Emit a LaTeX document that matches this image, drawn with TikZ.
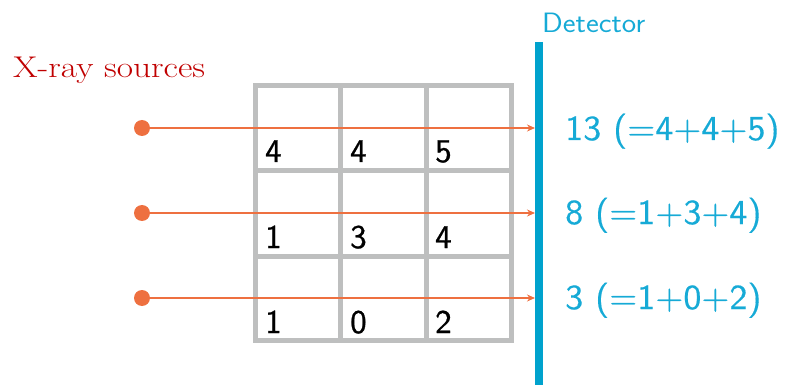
\documentclass[tikz,border=0pt]{standalone}
\usepackage{fontspec}
\usepackage{graphicx}
\usetikzlibrary{arrows.meta}
\newfontfamily\heavysans{lmsans10-regular.otf}[FakeBold=0.8]
\newfontfamily\lightsans{lmsans10-regular.otf}[FakeBold=0.3]
\definecolor{ray}{RGB}{238,112,64}
\definecolor{det}{RGB}{0,162,205}
\definecolor{dettext}{RGB}{22,170,214}
\definecolor{gridgray}{RGB}{190,191,191}
\definecolor{srcred}{RGB}{192,0,0}
\tikzset{
  gridline/.style={draw=gridgray, line width=5pt},
  srcdot/.style={circle, fill=ray, inner sep=0pt, minimum size=16pt},
  raypath/.style={draw=ray, line width=1.4pt, -{Stealth[length=8pt,width=7pt]}},
  cellnum/.style={anchor=base west, inner sep=0pt, font=\heavysans\fontsize{33}{38}\selectfont, text=black},
  sumlabel/.style={anchor=base west, inner sep=0pt, font=\lightsans\fontsize{35}{40}\selectfont, text=dettext},
}
\begin{document}
\begin{tikzpicture}[x=1pt,y=-1pt]
\useasboundingbox (0,0) rectangle (785,385);
% grid
\draw[gridline] (255,86) rectangle (511,340);
\draw[gridline] (340,86) -- (340,340);
\draw[gridline] (426,86) -- (426,340);
\draw[gridline] (255,171) -- (511,171);
\draw[gridline] (255,256) -- (511,256);
% cell numbers
\node[cellnum] (c11) at (265,162) {4};
\node[cellnum] (c12) at (350,162) {4};
\node[cellnum] (c13) at (435,162) {5};
\node[cellnum] (c21) at (265,248) {1};
\node[cellnum] (c22) at (350,248) {3};
\node[cellnum] (c23) at (435,248) {4};
\node[cellnum] (c31) at (265,333) {1};
\node[cellnum] (c32) at (350,333) {0};
\node[cellnum] (c33) at (435,333) {2};
% detector
\coordinate (dtop) at (539,42);
\coordinate (dbot) at (539,385);
\draw[det, line width=8pt] (dtop) -- (dbot);
\node[anchor=base west, inner sep=0pt, font=\sffamily\fontsize{28}{32}\selectfont, text=dettext] (dlabel) at (542,33) {\scalebox{1.09}[1]{Detector}};
% sources and rays
\node[srcdot] (s1) at (142,128) {};
\node[srcdot] (s2) at (142,213) {};
\node[srcdot] (s3) at (142,298) {};
\coordinate (d1) at (535,128);
\coordinate (d2) at (535,213);
\coordinate (d3) at (535,298);
\draw[raypath] (s1.center) -- (d1);
\draw[raypath] (s2.center) -- (d2);
\draw[raypath] (s3.center) -- (d3);
% sums
\node[sumlabel] (r1) at (565,140) {\scalebox{1.03}[1]{13 (=4+4+5)}};
\node[sumlabel] (r2) at (565,224) {\scalebox{1.03}[1]{8 (=1+3+4)}};
\node[sumlabel] (r3) at (565,309) {\scalebox{1.03}[1]{3 (=1+0+2)}};
% title
\node[anchor=base west, inner sep=0pt, font=\fontsize{30}{34}\selectfont, text=srcred] (xlabel) at (13,78) {\scalebox{1.18}[1]{X-ray sources}};
\end{tikzpicture}
\end{document}
